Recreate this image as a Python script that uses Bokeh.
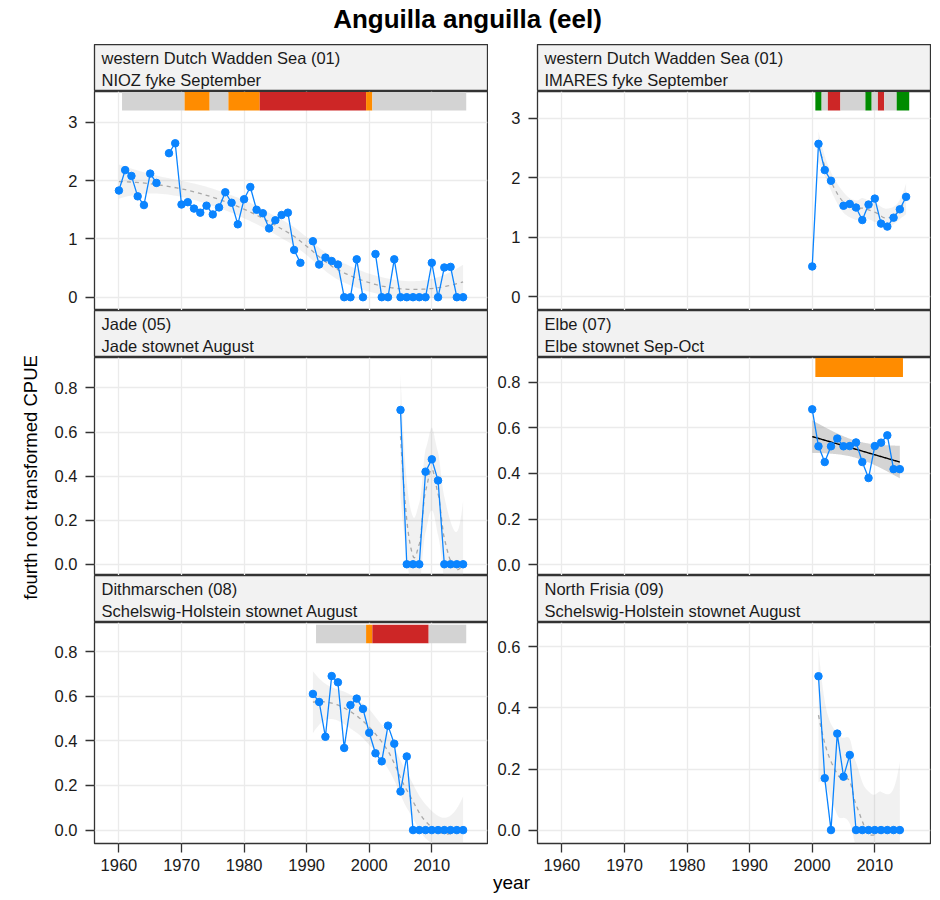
import numpy as np
from bokeh.plotting import figure
from bokeh.models import Range1d, FixedTicker, NumeralTickFormatter, Label
from bokeh.layouts import column, row
from bokeh.embed import file_html
from bokeh.resources import INLINE

FONT = "Liberation Sans"
NAN = float("nan")

# ---------------- data ----------------
title_text = "Anguilla anguilla (eel)"
ylab_text = "fourth root transformed CPUE"
xlab_text = "year"
x_ticks = [1960, 1970, 1980, 1990, 2000, 2010]

# panel 1: western Dutch Wadden Sea (01) / NIOZ fyke September
p1_years = list(range(1960, 2016))
p1_vals = [1.83, 2.18, 2.08, 1.73, 1.58, 2.12, 1.96, NAN, 2.47, 2.64,
           1.59, 1.63, 1.52, 1.45, 1.57, 1.42, 1.54, 1.80, 1.62, 1.25,
           1.68, 1.89, 1.50, 1.44, 1.18, 1.32, 1.41, 1.45, 0.81, 0.59,
           NAN, 0.96, 0.56, 0.68, 0.62, 0.56, 0.0, 0.0, 0.65, 0.0,
           NAN, 0.74, 0.0, 0.0, 0.65, 0.0, 0.0, 0.0, 0.0, 0.0,
           0.59, 0.0, 0.51, 0.52, 0.0, 0.0]
p1_bar_start = [1961, 1971, 1975, 1978, 1983, 2000, 2001]
p1_bar_end = [1970, 1974, 1977, 1982, 1999, 2000, 2015]
p1_bar_status = ["grey", "orange", "grey", "orange", "red", "orange", "grey"]

# panel 2: western Dutch Wadden Sea (01) / IMARES fyke September
p2_years = list(range(2000, 2016))
p2_vals = [0.51, 2.57, 2.13, 1.95, NAN, 1.53, 1.56, 1.50, 1.29, 1.55,
           1.65, 1.23, 1.18, 1.33, 1.47, 1.68]
p2_bar_start = [2001, 2002, 2003, 2005, 2009, 2010, 2011, 2012, 2014]
p2_bar_end = [2001, 2002, 2004, 2008, 2009, 2010, 2011, 2013, 2015]
p2_bar_status = ["green", "grey", "red", "grey", "green", "grey", "red", "grey", "green"]

# panel 3: Jade (05) / Jade stownet August
p3_years = list(range(2005, 2016))
p3_vals = [0.70, 0.0, 0.0, 0.0, 0.42, 0.476, 0.38, 0.0, 0.0, 0.0, 0.0]

# panel 4: Elbe (07) / Elbe stownet Sep-Oct
p4_years = list(range(2000, 2015))
p4_vals = [0.681, 0.519, 0.450, 0.519, 0.553, 0.519, 0.520, 0.536, 0.450,
           0.380, 0.520, 0.535, 0.567, 0.419, 0.419]
p4_bar_start = [2001]
p4_bar_end = [2014]
p4_bar_status = ["orange"]

# panel 5: Dithmarschen (08) / Schelswig-Holstein stownet August
p5_years = list(range(1991, 2016))
p5_vals = [0.610, 0.574, 0.418, 0.690, 0.662, 0.368, 0.560, 0.589, 0.543,
           0.436, 0.344, 0.308, 0.468, 0.387, 0.173, 0.330,
           0.0, 0.0, 0.0, 0.0, 0.0, 0.0, 0.0, 0.0, 0.0]
p5_bar_start = [1992, 2000, 2001, 2010]
p5_bar_end = [1999, 2000, 2009, 2015]
p5_bar_status = ["grey", "orange", "red", "grey"]

# panel 6: North Frisia (09) / Schelswig-Holstein stownet August
p6_years = list(range(2001, 2015))
p6_vals = [0.504, 0.170, 0.0, 0.316, 0.175, 0.246,
           0.0, 0.0, 0.0, 0.0, 0.0, 0.0, 0.0, 0.0]

# ---------------- style ----------------
BLUE = "#0A84FF"
STATUS_COLORS = {"grey": "#D3D3D3", "orange": "#FF8C00", "red": "#CD2626", "green": "#008B00"}
DARK = "#333333"
GRID = "#EBEBEB"
FRAME_W = 393
X_RANGE = (1956.1, 2018.9)


# ---------------- smoothers (derived from the data) ----------------
def tq975(df):
    z = 1.959963985
    g1 = (z**3 + z) / 4
    g2 = (5 * z**5 + 16 * z**3 + 3 * z) / 96
    g3 = (3 * z**7 + 19 * z**5 + 17 * z**3 - 15 * z) / 384
    g4 = (79 * z**9 + 776 * z**7 + 1482 * z**5 - 1920 * z**3 - 945 * z) / 92160
    return z + g1 / df + g2 / df**2 + g3 / df**3 + g4 / df**4


def local_fit(x, x0, q):
    d = np.abs(x - x0)
    h = max(np.sort(d)[q - 1], 1e-9)
    u = d / h
    w = np.where(u < 1, (1 - u**3) ** 3, 0.0)
    X = np.column_stack([np.ones(len(x)), x - x0, (x - x0) ** 2])
    XtW = X.T * w
    B = np.linalg.solve(XtW @ X, XtW)
    return B[0], B[1]


def kd_vertices(xsorted, fc):
    lo, hi = xsorted[0], xsorted[-1]
    mu = 0.005 * max(hi - lo, 1e-10)
    verts = [lo - mu, hi + mu]

    def rec(l, u, a, b):
        if u - l + 1 <= fc:
            return
        m = (l + u) // 2
        t = xsorted[m - 1]
        if t == a or t == b:
            return
        verts.append(t)
        rec(l, m, a, t)
        rec(m + 1, u, t, b)

    rec(1, len(xsorted), lo - mu, hi + mu)
    return np.array(sorted(verts))


def loess_ops(x, x_eval, span=0.75, cell=0.2):
    n = len(x)
    q = int(np.floor(n * span))
    fc = int(np.floor(n * span * cell))
    verts = kd_vertices(np.sort(x), fc)
    VS = [local_fit(x, v, q) for v in verts]
    rows = []
    for xe in x_eval:
        i = int(np.clip(np.searchsorted(verts, xe) - 1, 0, len(verts) - 2))
        a, b = verts[i], verts[i + 1]
        hh = b - a
        t = (xe - a) / hh
        h00 = 2 * t**3 - 3 * t**2 + 1
        h10 = t**3 - 2 * t**2 + t
        h01 = -2 * t**3 + 3 * t**2
        h11 = t**3 - t**2
        rows.append(h00 * VS[i][0] + h10 * hh * VS[i][1] + h01 * VS[i + 1][0] + h11 * hh * VS[i + 1][1])
    return np.array(rows)


def loess_band(x, y, xs):
    L = loess_ops(x, x)
    res = y - L @ y
    M = np.eye(len(x)) - L
    MM = M.T @ M
    d1 = np.trace(MM)
    d2 = np.trace(MM @ MM)
    s = np.sqrt(np.sum(res**2) / d1)
    Ls = loess_ops(x, xs)
    fit = Ls @ y
    se = s * np.sqrt((Ls**2).sum(axis=1))
    t = tq975(d1**2 / d2)
    return fit, fit - t * se, fit + t * se


def lm_band(x, y, xs):
    n = len(x)
    X = np.column_stack([np.ones(n), x])
    beta = np.linalg.lstsq(X, y, rcond=None)[0]
    res = y - X @ beta
    s2 = np.sum(res**2) / (n - 2)
    XtXi = np.linalg.inv(X.T @ X)
    Xs = np.column_stack([np.ones(len(xs)), xs])
    fit = Xs @ beta
    se = np.sqrt(s2 * np.sum((Xs @ XtXi) * Xs, axis=1))
    t = tq975(n - 2)
    return fit, fit - t * se, fit + t * se


# ---------------- builders ----------------
def make_strip(line1, line2, left):
    s = figure(frame_width=FRAME_W, frame_height=47, min_border_left=left, min_border_right=1,
               min_border_top=0, min_border_bottom=0,
               x_range=Range1d(0, FRAME_W), y_range=Range1d(0, 47),
               x_axis_type=None, y_axis_type=None, toolbar_location=None, output_backend="svg",
               background_fill_color="#F2F2F2", border_fill_color="white",
               outline_line_color=DARK, outline_line_width=1.3, outline_line_alpha=1.0)
    for txt, yy in ((line1, 34), (line2, 12)):
        s.add_layout(Label(x=7, y=yy, text=txt, text_font=FONT, text_font_size="16.5px",
                           text_color="#1A1A1A", text_baseline="middle", text_align="left"))
    return s


def make_panel(years, vals, y_range, y_ticks, fmt, frame_h, left, bottom_axis,
               smooth, smooth_from=None, bars=None, bar_y=None):
    p = figure(frame_width=FRAME_W, frame_height=frame_h, min_border_left=left, min_border_right=1,
               min_border_top=0, min_border_bottom=0,
               x_range=Range1d(*X_RANGE), y_range=Range1d(*y_range),
               toolbar_location=None, output_backend="svg",
               background_fill_color="white", border_fill_color="white",
               outline_line_color=DARK, outline_line_width=1.3, outline_line_alpha=1.0)
    # grids
    p.xgrid.ticker = FixedTicker(ticks=x_ticks)
    p.ygrid.ticker = FixedTicker(ticks=y_ticks)
    for g in (p.xgrid, p.ygrid):
        g.grid_line_color = GRID
        g.grid_line_width = 1.3
    # axes
    p.yaxis.ticker = FixedTicker(ticks=y_ticks)
    p.yaxis.formatter = NumeralTickFormatter(format=fmt)
    p.xaxis.ticker = FixedTicker(ticks=x_ticks)
    for ax in (p.xaxis, p.yaxis):
        ax.axis_line_color = None
        ax.major_tick_line_color = DARK
        ax.major_tick_line_width = 1.3
        ax.major_tick_out = 9
        ax.major_tick_in = 0
        ax.minor_tick_line_color = None
        ax.major_label_text_font = FONT
        ax.major_label_text_font_size = "16.5px"
        ax.major_label_text_color = "#1A1A1A"
        ax.major_label_standoff = 8
    p.xaxis.major_label_standoff = 6
    if not bottom_axis:
        p.xaxis.visible = False

    # status bars
    if bars is not None:
        st, en, ss = bars
        p.quad(left=[a - 0.5 for a in st], right=[b + 0.5 for b in en],
               bottom=bar_y[0], top=bar_y[1],
               fill_color=[STATUS_COLORS[c] for c in ss], line_color=None)

    # smoother
    x = np.array(years, dtype=float)
    y = np.array(vals, dtype=float)
    ok = ~np.isnan(y)
    if smooth_from is not None:
        ok &= x >= smooth_from
    xs_d, ys_d = x[ok], y[ok]
    xs = np.linspace(xs_d.min(), xs_d.max(), 120)
    if smooth == "lm":
        fit, lo, hi = lm_band(xs_d, ys_d, xs)
        p.varea(x=xs, y1=lo, y2=hi, fill_color="#999999", fill_alpha=0.42)
        p.line(xs, fit, line_color="black", line_width=1.4)
    else:
        fit, lo, hi = loess_band(xs_d, ys_d, xs)
        p.varea(x=xs, y1=lo, y2=hi, fill_color="#999999", fill_alpha=0.14)
        p.line(xs, fit, line_color="#A8A8A8", line_width=1.3, line_dash="4 4")

    # data
    p.line(years, vals, line_color=BLUE, line_width=1.3)
    p.scatter(years, vals, size=7.5, fill_color=BLUE, line_color=BLUE)
    return p


L1, L2 = 50, 49
YLAB_W = 44
TITLE_H = 44

s1 = make_strip("western Dutch Wadden Sea (01)", "NIOZ fyke September", L1)
s2 = make_strip("western Dutch Wadden Sea (01)", "IMARES fyke September", L2)
s3 = make_strip("Jade (05)", "Jade stownet August", L1)
s4 = make_strip("Elbe (07)", "Elbe stownet Sep-Oct", L2)
s5 = make_strip("Dithmarschen (08)", "Schelswig-Holstein stownet August", L1)
s6 = make_strip("North Frisia (09)", "Schelswig-Holstein stownet August", L2)

P1 = make_panel(p1_years, p1_vals, (-0.228, 3.528), [0, 1, 2, 3], "0", 219, L1, False, "loess",
                bars=(p1_bar_start, p1_bar_end, p1_bar_status), bar_y=(3.20, 3.52))
P2 = make_panel(p2_years, p2_vals, (-0.23, 3.45), [0, 1, 2, 3], "0", 219, L2, False, "loess",
                smooth_from=2001, bars=(p2_bar_start, p2_bar_end, p2_bar_status), bar_y=(3.13, 3.44))
P3 = make_panel(p3_years, p3_vals, (-0.051, 0.938), [0, 0.2, 0.4, 0.6, 0.8], "0.0", 218, L1, False, "loess")
P4 = make_panel(p4_years, p4_vals, (-0.047, 0.908), [0, 0.2, 0.4, 0.6, 0.8], "0.0", 218, L2, False, "lm",
                bars=(p4_bar_start, p4_bar_end, p4_bar_status), bar_y=(0.823, 0.906))
P5 = make_panel(p5_years, p5_vals, (-0.06, 0.93), [0, 0.2, 0.4, 0.6, 0.8], "0.0", 221, L1, True, "loess",
                bars=(p5_bar_start, p5_bar_end, p5_bar_status), bar_y=(0.837, 0.92))
P6 = make_panel(p6_years, p6_vals, (-0.044, 0.68), [0, 0.2, 0.4, 0.6], "0.0", 221, L2, True, "loess")

W_TOTAL = YLAB_W + (L1 + FRAME_W + 1) + (L2 + FRAME_W + 1)


def text_fig(w, h):
    f = figure(width=w, height=h, x_range=Range1d(0, w), y_range=Range1d(0, h),
               x_axis_type=None, y_axis_type=None, toolbar_location=None, output_backend="svg",
               min_border=0, outline_line_color=None, background_fill_color="white",
               border_fill_color="white")
    return f


title_fig = text_fig(W_TOTAL, TITLE_H)
title_fig.add_layout(Label(x=467, y=TITLE_H - 18, text=title_text, text_font=FONT, text_font_size="26px",
                           text_font_style="bold", text_color="black",
                           text_align="center", text_baseline="middle"))

ylab_fig = text_fig(YLAB_W, 799)
ylab_fig.add_layout(Label(x=30, y=799 - (477 - TITLE_H), text=ylab_text, text_font=FONT,
                          text_font_size="18.5px", text_color="black", angle=np.pi / 2,
                          text_align="center", text_baseline="middle"))

XLAB_H = 20
xlab_fig = text_fig(W_TOTAL, XLAB_H)
xlab_fig.add_layout(Label(x=511, y=XLAB_H - 9, text=xlab_text, text_font=FONT, text_font_size="19px",
                          text_color="black", text_align="center", text_baseline="middle"))

col1 = column(s1, P1, s3, P3, s5, P5, spacing=0)
col2 = column(s2, P2, s4, P4, s6, P6, spacing=0)
body = row(ylab_fig, col1, col2, spacing=0)
layout = column(title_fig, body, xlab_fig, spacing=0)

open("out.html", "w").write(file_html(layout, INLINE, title="Anguilla anguilla (eel)"))
